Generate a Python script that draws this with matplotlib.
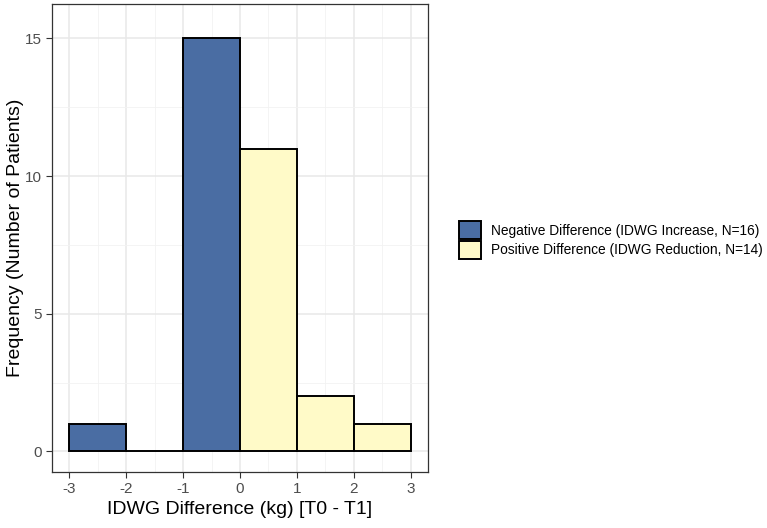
import numpy as np
import matplotlib.pyplot as plt
from matplotlib.patches import Patch
from matplotlib.ticker import MultipleLocator

plt.rcParams['font.family'] = ['Liberation Sans', 'DejaVu Sans']

# histogram bins (kg) and counts
bin_left = [-3, -2, -1, 0, 1, 2]
counts = [1, 0, 15, 11, 2, 1]
groups = ['neg', 'neg', 'neg', 'pos', 'pos', 'pos']

group_colors = {'neg': '#4A6DA3', 'pos': '#FFFAC8'}
group_labels = {
    'neg': 'Negative Difference (IDWG Increase, N=16)',
    'pos': 'Positive Difference (IDWG Reduction, N=14)',
}

fig = plt.figure(figsize=(7.67, 5.28), dpi=100)
ax = fig.add_axes([52 / 767, 1 - 472 / 528, (428 - 52) / 767, (472 - 4) / 528])

for left, c, g in zip(bin_left, counts, groups):
    ax.bar(left, c, width=1, align='edge', color=group_colors[g],
           edgecolor='black', linewidth=1.4, zorder=3)

ax.set_xlim(-3.3, 3.3)
ax.set_ylim(-0.75, 16.25)
ax.xaxis.set_major_locator(MultipleLocator(1))
ax.xaxis.set_minor_locator(MultipleLocator(0.5))
ax.yaxis.set_major_locator(MultipleLocator(5))
ax.yaxis.set_minor_locator(MultipleLocator(2.5))
ax.grid(True, which='major', color='#E8E8E8', linewidth=1.1, zorder=0)
ax.grid(True, which='minor', color='#F2F2F2', linewidth=0.6, zorder=0)
ax.set_axisbelow(True)

ax.tick_params(which='major', length=4, color='#333333', labelsize=11,
               labelcolor='#4D4D4D', width=0.8)
ax.tick_params(which='minor', length=0)
ax.set_xticklabels([str(int(v)) for v in ax.get_xticks()])
for sp in ax.spines.values():
    sp.set_color('#333333')
    sp.set_linewidth(0.9)

ax.set_xlabel('IDWG Difference (kg) [T0 - T1]', fontsize=14, labelpad=3)
ax.set_ylabel('Frequency (Number of Patients)', fontsize=14, labelpad=0.5)

handles = [Patch(facecolor=group_colors[g], edgecolor='black', linewidth=1.4,
                 label=group_labels[g]) for g in ['neg', 'pos']]
fig.legend(handles=handles, loc='center left', bbox_to_anchor=(447 / 767, 1 - 240 / 528),
           frameon=False, fontsize=9.9, handlelength=1.6, handleheight=1.6,
           handletextpad=0.72, labelspacing=0.15)

fig.savefig('out.png', dpi=100)
